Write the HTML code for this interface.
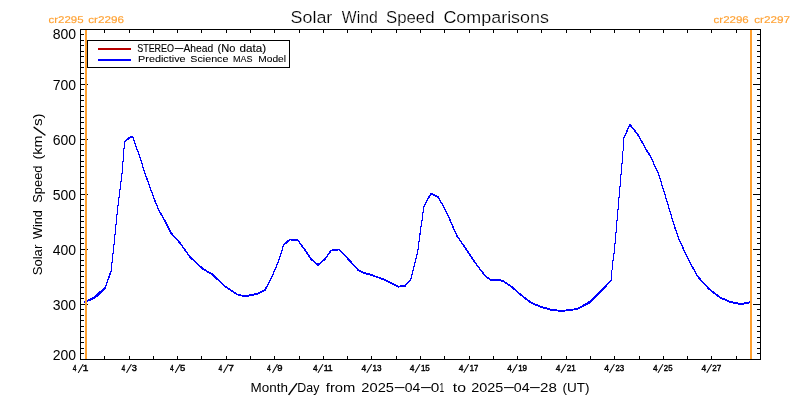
<!DOCTYPE html>
<html lang="en"><head><meta charset="utf-8"><title>Solar Wind Speed Comparisons</title>
<style>html,body{margin:0;padding:0;background:#fff;}body{width:800px;height:400px;overflow:hidden;}svg{display:block;}text{font-family:"Liberation Sans",sans-serif;fill:#000;}.t{font-size:16.8px;stroke:#fff;stroke-width:0.2px;}.a{font-size:14px;}.x{font-size:12.6px;}.k{font-size:8.4px;stroke:#000;stroke-width:0.4px;}.l{font-size:10.9px;stroke:#000;stroke-width:0.12px;}.m{font-size:9px;stroke:#000;stroke-width:0.08px;}.c{font-size:9.8px;text-rendering:geometricPrecision;fill:#ffa030;stroke:#ffa030;stroke-width:0.15px;}</style></head><body>
<svg width="800" height="400" viewBox="0 0 800 400">
<rect x="0" y="0" width="800" height="400" fill="#ffffff"/>
<g shape-rendering="crispEdges" fill="#000">
<rect x="80" y="29" width="681" height="1"/>
<rect x="80" y="359" width="681" height="1"/>
<rect x="80" y="29" width="1" height="331"/>
<rect x="760" y="29" width="1" height="331"/>
<rect x="104" y="30" width="1" height="3"/>
<rect x="104" y="356" width="1" height="3"/>
<rect x="129" y="30" width="1" height="3"/>
<rect x="129" y="356" width="1" height="3"/>
<rect x="153" y="30" width="1" height="3"/>
<rect x="153" y="356" width="1" height="3"/>
<rect x="177" y="30" width="1" height="3"/>
<rect x="177" y="356" width="1" height="3"/>
<rect x="201" y="30" width="1" height="3"/>
<rect x="201" y="356" width="1" height="3"/>
<rect x="226" y="30" width="1" height="3"/>
<rect x="226" y="356" width="1" height="3"/>
<rect x="250" y="30" width="1" height="3"/>
<rect x="250" y="356" width="1" height="3"/>
<rect x="274" y="30" width="1" height="3"/>
<rect x="274" y="356" width="1" height="3"/>
<rect x="299" y="30" width="1" height="3"/>
<rect x="299" y="356" width="1" height="3"/>
<rect x="323" y="30" width="1" height="3"/>
<rect x="323" y="356" width="1" height="3"/>
<rect x="347" y="30" width="1" height="3"/>
<rect x="347" y="356" width="1" height="3"/>
<rect x="371" y="30" width="1" height="3"/>
<rect x="371" y="356" width="1" height="3"/>
<rect x="396" y="30" width="1" height="3"/>
<rect x="396" y="356" width="1" height="3"/>
<rect x="420" y="30" width="1" height="3"/>
<rect x="420" y="356" width="1" height="3"/>
<rect x="444" y="30" width="1" height="3"/>
<rect x="444" y="356" width="1" height="3"/>
<rect x="469" y="30" width="1" height="3"/>
<rect x="469" y="356" width="1" height="3"/>
<rect x="493" y="30" width="1" height="3"/>
<rect x="493" y="356" width="1" height="3"/>
<rect x="517" y="30" width="1" height="3"/>
<rect x="517" y="356" width="1" height="3"/>
<rect x="541" y="30" width="1" height="3"/>
<rect x="541" y="356" width="1" height="3"/>
<rect x="566" y="30" width="1" height="3"/>
<rect x="566" y="356" width="1" height="3"/>
<rect x="590" y="30" width="1" height="3"/>
<rect x="590" y="356" width="1" height="3"/>
<rect x="614" y="30" width="1" height="3"/>
<rect x="614" y="356" width="1" height="3"/>
<rect x="639" y="30" width="1" height="3"/>
<rect x="639" y="356" width="1" height="3"/>
<rect x="663" y="30" width="1" height="3"/>
<rect x="663" y="356" width="1" height="3"/>
<rect x="687" y="30" width="1" height="3"/>
<rect x="687" y="356" width="1" height="3"/>
<rect x="711" y="30" width="1" height="3"/>
<rect x="711" y="356" width="1" height="3"/>
<rect x="736" y="30" width="1" height="3"/>
<rect x="736" y="356" width="1" height="3"/>
<rect x="81" y="353" width="3" height="1"/>
<rect x="757" y="353" width="3" height="1"/>
<rect x="81" y="348" width="3" height="1"/>
<rect x="757" y="348" width="3" height="1"/>
<rect x="81" y="342" width="3" height="1"/>
<rect x="757" y="342" width="3" height="1"/>
<rect x="81" y="337" width="3" height="1"/>
<rect x="757" y="337" width="3" height="1"/>
<rect x="81" y="331" width="3" height="1"/>
<rect x="757" y="331" width="3" height="1"/>
<rect x="81" y="326" width="3" height="1"/>
<rect x="757" y="326" width="3" height="1"/>
<rect x="81" y="320" width="3" height="1"/>
<rect x="757" y="320" width="3" height="1"/>
<rect x="81" y="315" width="3" height="1"/>
<rect x="757" y="315" width="3" height="1"/>
<rect x="81" y="309" width="3" height="1"/>
<rect x="757" y="309" width="3" height="1"/>
<rect x="81" y="304" width="7" height="1"/>
<rect x="753" y="304" width="7" height="1"/>
<rect x="81" y="298" width="3" height="1"/>
<rect x="757" y="298" width="3" height="1"/>
<rect x="81" y="293" width="3" height="1"/>
<rect x="757" y="293" width="3" height="1"/>
<rect x="81" y="287" width="3" height="1"/>
<rect x="757" y="287" width="3" height="1"/>
<rect x="81" y="282" width="3" height="1"/>
<rect x="757" y="282" width="3" height="1"/>
<rect x="81" y="276" width="3" height="1"/>
<rect x="757" y="276" width="3" height="1"/>
<rect x="81" y="271" width="3" height="1"/>
<rect x="757" y="271" width="3" height="1"/>
<rect x="81" y="265" width="3" height="1"/>
<rect x="757" y="265" width="3" height="1"/>
<rect x="81" y="260" width="3" height="1"/>
<rect x="757" y="260" width="3" height="1"/>
<rect x="81" y="254" width="3" height="1"/>
<rect x="757" y="254" width="3" height="1"/>
<rect x="81" y="249" width="7" height="1"/>
<rect x="753" y="249" width="7" height="1"/>
<rect x="81" y="243" width="3" height="1"/>
<rect x="757" y="243" width="3" height="1"/>
<rect x="81" y="238" width="3" height="1"/>
<rect x="757" y="238" width="3" height="1"/>
<rect x="81" y="232" width="3" height="1"/>
<rect x="757" y="232" width="3" height="1"/>
<rect x="81" y="227" width="3" height="1"/>
<rect x="757" y="227" width="3" height="1"/>
<rect x="81" y="221" width="3" height="1"/>
<rect x="757" y="221" width="3" height="1"/>
<rect x="81" y="216" width="3" height="1"/>
<rect x="757" y="216" width="3" height="1"/>
<rect x="81" y="210" width="3" height="1"/>
<rect x="757" y="210" width="3" height="1"/>
<rect x="81" y="205" width="3" height="1"/>
<rect x="757" y="205" width="3" height="1"/>
<rect x="81" y="199" width="3" height="1"/>
<rect x="757" y="199" width="3" height="1"/>
<rect x="81" y="194" width="7" height="1"/>
<rect x="753" y="194" width="7" height="1"/>
<rect x="81" y="188" width="3" height="1"/>
<rect x="757" y="188" width="3" height="1"/>
<rect x="81" y="183" width="3" height="1"/>
<rect x="757" y="183" width="3" height="1"/>
<rect x="81" y="177" width="3" height="1"/>
<rect x="757" y="177" width="3" height="1"/>
<rect x="81" y="172" width="3" height="1"/>
<rect x="757" y="172" width="3" height="1"/>
<rect x="81" y="166" width="3" height="1"/>
<rect x="757" y="166" width="3" height="1"/>
<rect x="81" y="161" width="3" height="1"/>
<rect x="757" y="161" width="3" height="1"/>
<rect x="81" y="155" width="3" height="1"/>
<rect x="757" y="155" width="3" height="1"/>
<rect x="81" y="150" width="3" height="1"/>
<rect x="757" y="150" width="3" height="1"/>
<rect x="81" y="144" width="3" height="1"/>
<rect x="757" y="144" width="3" height="1"/>
<rect x="81" y="139" width="7" height="1"/>
<rect x="753" y="139" width="7" height="1"/>
<rect x="81" y="133" width="3" height="1"/>
<rect x="757" y="133" width="3" height="1"/>
<rect x="81" y="128" width="3" height="1"/>
<rect x="757" y="128" width="3" height="1"/>
<rect x="81" y="122" width="3" height="1"/>
<rect x="757" y="122" width="3" height="1"/>
<rect x="81" y="117" width="3" height="1"/>
<rect x="757" y="117" width="3" height="1"/>
<rect x="81" y="111" width="3" height="1"/>
<rect x="757" y="111" width="3" height="1"/>
<rect x="81" y="106" width="3" height="1"/>
<rect x="757" y="106" width="3" height="1"/>
<rect x="81" y="100" width="3" height="1"/>
<rect x="757" y="100" width="3" height="1"/>
<rect x="81" y="95" width="3" height="1"/>
<rect x="757" y="95" width="3" height="1"/>
<rect x="81" y="89" width="3" height="1"/>
<rect x="757" y="89" width="3" height="1"/>
<rect x="81" y="84" width="7" height="1"/>
<rect x="753" y="84" width="7" height="1"/>
<rect x="81" y="78" width="3" height="1"/>
<rect x="757" y="78" width="3" height="1"/>
<rect x="81" y="73" width="3" height="1"/>
<rect x="757" y="73" width="3" height="1"/>
<rect x="81" y="67" width="3" height="1"/>
<rect x="757" y="67" width="3" height="1"/>
<rect x="81" y="62" width="3" height="1"/>
<rect x="757" y="62" width="3" height="1"/>
<rect x="81" y="56" width="3" height="1"/>
<rect x="757" y="56" width="3" height="1"/>
<rect x="81" y="51" width="3" height="1"/>
<rect x="757" y="51" width="3" height="1"/>
<rect x="81" y="45" width="3" height="1"/>
<rect x="757" y="45" width="3" height="1"/>
<rect x="81" y="40" width="3" height="1"/>
<rect x="757" y="40" width="3" height="1"/>
<rect x="81" y="34" width="3" height="1"/>
<rect x="757" y="34" width="3" height="1"/>
</g>
<g fill="none" stroke="#0000ff" stroke-width="1" stroke-linejoin="bevel" shape-rendering="crispEdges"><polyline points="84.20,302.10 91.60,299.10 96.60,295.80 105.40,287.40 111.20,270.60 113.40,250.00 114.50,240.00 117.50,210.00 118.75,200.00 122.50,170.00 123.10,160.00 124.60,141.90 130.60,136.70 132.60,136.70 140.90,160.00 143.75,170.00 154.60,200.00 158.75,210.00 165.00,221.00 171.00,233.00 180.00,243.00 185.00,250.00 190.00,257.00 203.00,269.00 212.40,274.40 224.00,285.60 237.00,294.40 245.00,296.40 258.00,293.60 265.00,290.00 272.00,276.50 278.40,261.60 283.60,245.00 290.00,239.40 298.00,240.40 305.00,250.00 311.00,259.00 318.00,265.00 325.00,259.00 331.00,250.60 339.00,249.40 351.00,262.00 358.00,270.00 364.00,273.00 370.00,274.60 384.00,279.40 398.00,286.60 405.00,286.00 411.00,279.00 418.00,250.00 420.60,229.40 422.00,221.00 423.75,206.60 430.90,193.50 438.00,197.00 444.40,208.00 450.00,220.00 453.75,228.75 457.00,236.00 464.00,246.00 474.00,261.00 480.00,269.25 485.25,276.00 490.50,279.75 498.40,279.75 503.60,281.50 511.50,286.75 523.75,297.25 530.75,302.50 539.50,306.35 551.75,310.00 561.40,310.90 571.00,310.00 578.00,308.60 589.40,302.50 602.50,289.40 611.25,280.10 612.50,264.00 614.40,250.90 621.90,164.40 622.50,160.00 623.75,138.10 630.00,124.60 638.10,135.00 644.40,146.25 647.00,151.00 651.25,157.50 654.00,164.40 658.40,173.60 666.00,198.00 672.50,220.00 675.00,228.00 678.75,238.75 686.25,255.00 688.00,258.75 697.50,276.25 708.75,288.75 720.00,297.50 730.00,301.75 740.00,304.00 746.25,303.25 750.50,302.00"/><polyline points="84.20,301.65 91.60,298.60 96.60,294.80 105.40,286.70 111.20,270.15 113.40,249.55 114.50,239.55 117.50,209.55 118.75,199.55 122.50,169.55 123.10,159.55 124.60,141.45 130.60,136.25 132.60,136.25 140.90,159.55 143.75,169.55 154.60,199.55 158.75,209.55 165.00,220.55 171.00,232.55 180.00,242.55 185.00,249.55 190.00,256.55 203.00,268.55 212.40,273.95 224.00,285.15 237.00,293.95 245.00,295.95 258.00,293.15 265.00,289.55 272.00,276.05 278.40,261.15 283.60,244.55 290.00,238.95 298.00,239.95 305.00,249.55 311.00,258.55 318.00,264.55 325.00,258.55 331.00,250.15 339.00,248.95 351.00,261.55 358.00,269.55 364.00,272.55 370.00,274.15 384.00,278.95 398.00,286.15 405.00,285.55 411.00,278.55 418.00,249.55 420.60,228.95 422.00,220.55 423.75,206.15 430.90,193.05 438.00,196.55 444.40,207.55 450.00,219.55 453.75,228.30 457.00,235.55 464.00,245.55 474.00,260.55 480.00,268.80 485.25,275.55 490.50,279.30 498.40,279.30 503.60,281.05 511.50,286.30 523.75,296.80 530.75,302.05 539.50,305.90 551.75,309.55 561.40,310.45 571.00,309.55 578.00,308.25 589.40,301.55 602.50,288.45 611.25,279.80 612.50,263.55 614.40,250.45 621.90,163.95 622.50,159.55 623.75,137.65 630.00,124.15 638.10,134.55 644.40,145.80 647.00,150.55 651.25,157.05 654.00,163.95 658.40,173.15 666.00,197.55 672.50,219.55 675.00,227.55 678.75,238.30 686.25,254.55 688.00,258.30 697.50,275.80 708.75,288.30 720.00,297.05 730.00,301.30 740.00,303.55 746.25,302.80 750.50,301.55"/><polyline points="84.20,302.55 91.60,299.60 96.60,296.80 105.40,288.10 111.20,271.05 113.40,250.45 114.50,240.45 117.50,210.45 118.75,200.45 122.50,170.45 123.10,160.45 124.60,142.35 130.60,137.15 132.60,137.15 140.90,160.45 143.75,170.45 154.60,200.45 158.75,210.45 165.00,221.45 171.00,233.45 180.00,243.45 185.00,250.45 190.00,257.45 203.00,269.45 212.40,274.85 224.00,286.05 237.00,294.85 245.00,296.85 258.00,294.05 265.00,290.45 272.00,276.95 278.40,262.05 283.60,245.45 290.00,239.85 298.00,240.85 305.00,250.45 311.00,259.45 318.00,265.45 325.00,259.45 331.00,251.05 339.00,249.85 351.00,262.45 358.00,270.45 364.00,273.45 370.00,275.05 384.00,279.85 398.00,287.05 405.00,286.45 411.00,279.45 418.00,250.45 420.60,229.85 422.00,221.45 423.75,207.05 430.90,193.95 438.00,197.45 444.40,208.45 450.00,220.45 453.75,229.20 457.00,236.45 464.00,246.45 474.00,261.45 480.00,269.70 485.25,276.45 490.50,280.20 498.40,280.20 503.60,281.95 511.50,287.20 523.75,297.70 530.75,302.95 539.50,306.80 551.75,310.45 561.40,311.35 571.00,310.45 578.00,308.95 589.40,303.45 602.50,290.35 611.25,280.40 612.50,264.45 614.40,251.35 621.90,164.85 622.50,160.45 623.75,138.55 630.00,125.05 638.10,135.45 644.40,146.70 647.00,151.45 651.25,157.95 654.00,164.85 658.40,174.05 666.00,198.45 672.50,220.45 675.00,228.45 678.75,239.20 686.25,255.45 688.00,259.20 697.50,276.70 708.75,289.20 720.00,297.95 730.00,302.20 740.00,304.45 746.25,303.70 750.50,302.45"/></g>
<g shape-rendering="crispEdges" fill="#ffa030">
<rect x="85" y="30" width="2" height="329"/>
<rect x="750" y="30" width="2" height="329"/>
</g>
<g shape-rendering="crispEdges">
<rect x="87.5" y="40.5" width="202" height="27" fill="#fff" stroke="#000" stroke-width="1"/>
<rect x="98" y="48" width="33" height="2" fill="#b80000"/>
<rect x="98" y="59" width="33" height="2" fill="#0000ff"/>
</g>
<text class="a" x="76" y="360.0" text-anchor="end">200</text>
<text class="a" x="76" y="310.0" text-anchor="end">300</text>
<text class="a" x="76" y="255.0" text-anchor="end">400</text>
<text class="a" x="76" y="200.0" text-anchor="end">500</text>
<text class="a" x="76" y="145.0" text-anchor="end">600</text>
<text class="a" x="76" y="90.0" text-anchor="end">700</text>
<text class="a" x="76" y="39.0" text-anchor="end">800</text>
<text class="t"><tspan x="290.53" y="23.00" textLength="41.81" lengthAdjust="spacingAndGlyphs">Solar</tspan> <tspan x="341.83" y="23.00" textLength="35.82" lengthAdjust="spacingAndGlyphs">Wind</tspan> <tspan x="386.01" y="23.00" textLength="48.55" lengthAdjust="spacingAndGlyphs">Speed</tspan> <tspan x="443.44" y="23.00" textLength="105.51" lengthAdjust="spacingAndGlyphs">Comparisons</tspan></text>
<text class="x"><tspan x="250.57" y="392.00" textLength="37.40" lengthAdjust="spacingAndGlyphs">Month</tspan><tspan x="288.08" y="394.60" rotate="20" style="font-size:19px;">/</tspan><tspan x="297.31" y="392.00" textLength="22.04" lengthAdjust="spacingAndGlyphs">Day</tspan> <tspan x="325.81" y="392.00" textLength="29.53" lengthAdjust="spacingAndGlyphs">from</tspan> <tspan x="361.36" y="392.00" textLength="32.64" lengthAdjust="spacingAndGlyphs">2025</tspan><tspan x="393.12" y="390.80" textLength="13.26" lengthAdjust="spacingAndGlyphs">-</tspan><tspan x="404.82" y="392.00" textLength="15.54" lengthAdjust="spacingAndGlyphs">04</tspan><tspan x="419.27" y="390.80" textLength="13.40" lengthAdjust="spacingAndGlyphs">-</tspan><tspan x="430.88" y="392.00" textLength="8.55" lengthAdjust="spacingAndGlyphs">0</tspan><tspan x="439.39" y="392.00" textLength="4.67" lengthAdjust="spacingAndGlyphs">1</tspan> <tspan x="452.74" y="392.00" textLength="13.23" lengthAdjust="spacingAndGlyphs">to</tspan> <tspan x="471.25" y="392.00" textLength="32.05" lengthAdjust="spacingAndGlyphs">2025</tspan><tspan x="502.33" y="390.80" textLength="13.33" lengthAdjust="spacingAndGlyphs">-</tspan><tspan x="513.77" y="392.00" textLength="15.83" lengthAdjust="spacingAndGlyphs">04</tspan><tspan x="528.37" y="390.80" textLength="13.26" lengthAdjust="spacingAndGlyphs">-</tspan><tspan x="539.99" y="392.00" textLength="16.84" lengthAdjust="spacingAndGlyphs">28</tspan> <tspan x="562.47" y="392.00" textLength="27.03" lengthAdjust="spacingAndGlyphs">(UT)</tspan></text>
<text class="x" transform="rotate(-90)"><tspan x="-275.36" y="42.30" textLength="30.65" lengthAdjust="spacingAndGlyphs">Solar</tspan> <tspan x="-238.89" y="42.30" textLength="28.60" lengthAdjust="spacingAndGlyphs">Wind</tspan> <tspan x="-202.77" y="42.30" textLength="37.21" lengthAdjust="spacingAndGlyphs">Speed</tspan> <tspan x="-159.40" y="42.30" textLength="23.72" lengthAdjust="spacingAndGlyphs">(km</tspan><tspan x="-135.92" y="44.90" rotate="20" style="font-size:19px;">/</tspan><tspan x="-126.07" y="42.30" textLength="12.68" lengthAdjust="spacingAndGlyphs">s)</tspan></text>
<text class="l"><tspan x="137.18" y="52.00" textLength="36.88" lengthAdjust="spacingAndGlyphs">STEREO</tspan><tspan x="173.61" y="51.40" textLength="11.11" lengthAdjust="spacingAndGlyphs">-</tspan><tspan x="183.42" y="52.00" textLength="29.70" lengthAdjust="spacingAndGlyphs">Ahead</tspan> <tspan x="217.64" y="52.00" textLength="17.90" lengthAdjust="spacingAndGlyphs">(No</tspan> <tspan x="239.52" y="52.00" textLength="26.52" lengthAdjust="spacingAndGlyphs">data)</tspan></text>
<text class="m"><tspan x="138.14" y="62.00" textLength="47.49" lengthAdjust="spacingAndGlyphs">Predictive</tspan> <tspan x="190.32" y="62.00" textLength="38.12" lengthAdjust="spacingAndGlyphs">Science</tspan> <tspan x="232.94" y="62.00" textLength="19.48" lengthAdjust="spacingAndGlyphs">MAS</tspan> <tspan x="258.33" y="62.00" textLength="27.66" lengthAdjust="spacingAndGlyphs">Model</tspan></text>
<text class="c"><tspan x="48.58" y="23.00" textLength="35.02" lengthAdjust="spacingAndGlyphs">cr2295</tspan> <tspan x="88.21" y="23.00" textLength="35.87" lengthAdjust="spacingAndGlyphs">cr2296</tspan></text>
<text class="c"><tspan x="713.55" y="23.00" textLength="35.20" lengthAdjust="spacingAndGlyphs">cr2296</tspan> <tspan x="754.25" y="23.00" textLength="35.77" lengthAdjust="spacingAndGlyphs">cr2297</tspan></text>
<text class="k"><tspan x="72.76" y="371.00" textLength="3.70" lengthAdjust="spacingAndGlyphs">4</tspan><tspan x="77.65" y="372.80" rotate="14" style="font-size:13.3px;stroke-width:0;">/</tspan><tspan x="82.74" y="371.00" textLength="5.63" lengthAdjust="spacingAndGlyphs">1</tspan></text>
<text class="k"><tspan x="121.39" y="371.00" textLength="3.74" lengthAdjust="spacingAndGlyphs">4</tspan><tspan x="125.94" y="372.80" rotate="14" style="font-size:13.3px;stroke-width:0;">/</tspan><tspan x="131.65" y="371.00" textLength="5.13" lengthAdjust="spacingAndGlyphs">3</tspan></text>
<text class="k"><tspan x="169.96" y="371.00" textLength="3.71" lengthAdjust="spacingAndGlyphs">4</tspan><tspan x="174.79" y="372.80" rotate="14" style="font-size:13.3px;stroke-width:0;">/</tspan><tspan x="179.94" y="371.00" textLength="5.29" lengthAdjust="spacingAndGlyphs">5</tspan></text>
<text class="k"><tspan x="218.50" y="371.00" textLength="3.74" lengthAdjust="spacingAndGlyphs">4</tspan><tspan x="223.12" y="372.80" rotate="14" style="font-size:13.3px;stroke-width:0;">/</tspan><tspan x="228.52" y="371.00" textLength="5.37" lengthAdjust="spacingAndGlyphs">7</tspan></text>
<text class="k"><tspan x="267.00" y="371.00" textLength="3.83" lengthAdjust="spacingAndGlyphs">4</tspan><tspan x="271.93" y="372.80" rotate="14" style="font-size:13.3px;stroke-width:0;">/</tspan><tspan x="277.20" y="371.00" textLength="5.24" lengthAdjust="spacingAndGlyphs">9</tspan></text>
<text class="k"><tspan x="312.92" y="371.00" textLength="4.61" lengthAdjust="spacingAndGlyphs">4</tspan><tspan x="317.49" y="372.80" rotate="14" style="font-size:13.3px;stroke-width:0;">/</tspan><tspan x="323.65" y="371.00" textLength="9.03" lengthAdjust="spacingAndGlyphs">11</tspan></text>
<text class="k"><tspan x="361.45" y="371.00" textLength="4.69" lengthAdjust="spacingAndGlyphs">4</tspan><tspan x="366.13" y="372.80" rotate="14" style="font-size:13.3px;stroke-width:0;">/</tspan><tspan x="372.44" y="371.00" textLength="9.02" lengthAdjust="spacingAndGlyphs">13</tspan></text>
<text class="k"><tspan x="409.81" y="371.00" textLength="4.69" lengthAdjust="spacingAndGlyphs">4</tspan><tspan x="414.57" y="372.80" rotate="14" style="font-size:13.3px;stroke-width:0;">/</tspan><tspan x="420.91" y="371.00" textLength="8.91" lengthAdjust="spacingAndGlyphs">15</tspan></text>
<text class="k"><tspan x="458.65" y="371.00" textLength="4.70" lengthAdjust="spacingAndGlyphs">4</tspan><tspan x="463.32" y="372.80" rotate="14" style="font-size:13.3px;stroke-width:0;">/</tspan><tspan x="469.63" y="371.00" textLength="8.60" lengthAdjust="spacingAndGlyphs">17</tspan></text>
<text class="k"><tspan x="507.13" y="371.00" textLength="4.67" lengthAdjust="spacingAndGlyphs">4</tspan><tspan x="511.67" y="372.80" rotate="14" style="font-size:13.3px;stroke-width:0;">/</tspan><tspan x="518.13" y="371.00" textLength="8.95" lengthAdjust="spacingAndGlyphs">19</tspan></text>
<text class="k"><tspan x="555.74" y="371.00" textLength="4.60" lengthAdjust="spacingAndGlyphs">4</tspan><tspan x="560.47" y="372.80" rotate="14" style="font-size:13.3px;stroke-width:0;">/</tspan><tspan x="566.66" y="371.00" textLength="9.14" lengthAdjust="spacingAndGlyphs">21</tspan></text>
<text class="k"><tspan x="604.27" y="371.00" textLength="4.76" lengthAdjust="spacingAndGlyphs">4</tspan><tspan x="608.93" y="372.80" rotate="14" style="font-size:13.3px;stroke-width:0;">/</tspan><tspan x="615.49" y="371.00" textLength="8.73" lengthAdjust="spacingAndGlyphs">23</tspan></text>
<text class="k"><tspan x="652.92" y="371.00" textLength="4.61" lengthAdjust="spacingAndGlyphs">4</tspan><tspan x="657.49" y="372.80" rotate="14" style="font-size:13.3px;stroke-width:0;">/</tspan><tspan x="663.85" y="371.00" textLength="8.66" lengthAdjust="spacingAndGlyphs">25</tspan></text>
<text class="k"><tspan x="701.45" y="371.00" textLength="4.69" lengthAdjust="spacingAndGlyphs">4</tspan><tspan x="706.13" y="372.80" rotate="14" style="font-size:13.3px;stroke-width:0;">/</tspan><tspan x="712.26" y="371.00" textLength="9.06" lengthAdjust="spacingAndGlyphs">27</tspan></text>
</svg></body></html>
